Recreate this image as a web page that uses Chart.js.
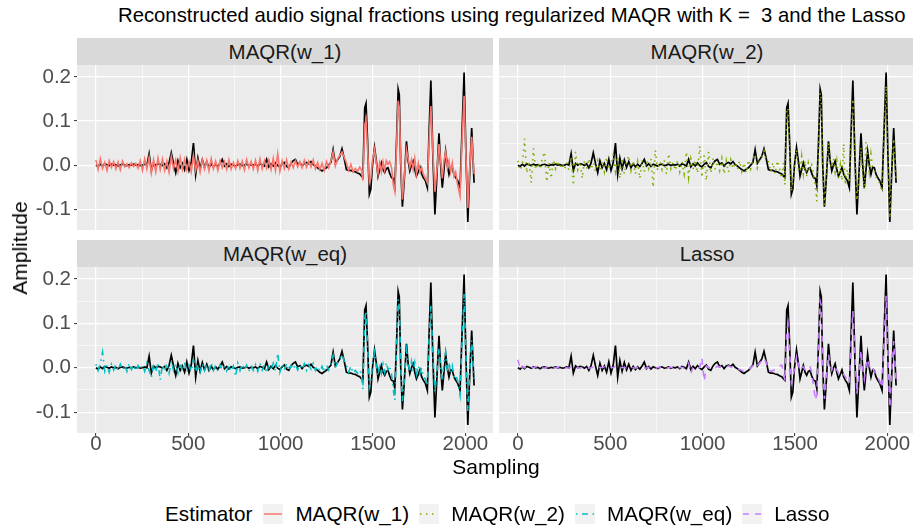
<!DOCTYPE html>
<html lang="en">
<head>
<meta charset="UTF-8">
<title>Reconstructed audio signal fractions</title>
<script src="https://cdn.jsdelivr.net/npm/chart.js"></script>
<style>
  body {
    margin: 0;
    width: 913px;
    height: 527px;
    overflow: hidden;
    background: #fff;
    position: relative;
    font-family: "Liberation Sans", Arial, sans-serif;
  }
  .title {
    position: absolute;
    left: 118px;
    top: 4px;
    font-size: 20.3px;
    color: #000;
    white-space: nowrap;
  }
  .strip {
    position: absolute;
    height: 27px;
    line-height: 27px;
    background: #D9D9D9;
    color: #1A1A1A;
    font-size: 20.5px;
    text-align: center;
  }
  canvas { position: absolute; }
  .ytitle {
    position: absolute;
    left: 20px;
    top: 248px;
    font-size: 21px;
    transform: translate(-50%, -50%) rotate(-90deg);
    white-space: nowrap;
  }
  .xtitle {
    position: absolute;
    left: 496px;
    top: 467px;
    font-size: 21px;
    transform: translate(-50%, -50%);
  }
  .legend {
    position: absolute;
    left: 165px;
    top: 502px;
    height: 24px;
    display: flex;
    align-items: center;
    font-size: 20.7px;
    color: #000;
    white-space: nowrap;
  }
  .legend .key { width: 20px; height: 20px; background: #F2F2F2; margin: 0 12px 0 0; }
  .legend .lab { margin-right: 10px; }
</style>
</head>
<body>
<div class="title">Reconstructed audio signal fractions using regularized MAQR with K =&nbsp; 3 and the Lasso</div>

<div class="strip" style="left:77px;top:38px;width:416px;">MAQR(w_1)</div>
<div class="strip" style="left:499px;top:38px;width:416px;">MAQR(w_2)</div>
<div class="strip" style="left:77px;top:240px;width:416px;">MAQR(w_eq)</div>
<div class="strip" style="left:499px;top:240px;width:416px;">Lasso</div>

<canvas id="p1" width="493" height="165" style="left:0;top:65px;"></canvas>
<canvas id="p2" width="416" height="165" style="left:499px;top:65px;"></canvas>
<canvas id="p3" width="493" height="194" style="left:0;top:267px;"></canvas>
<canvas id="p4" width="416" height="194" style="left:499px;top:267px;"></canvas>

<div class="ytitle">Amplitude</div>
<div class="xtitle">Sampling</div>

<div class="legend" id="legend"></div>

<script>
// sample positions shared by every series
const sampleIdx = [
  0,12,24,36,48,60,72,84,96,108,
  120,132,144,156,168,180,192,204,216,228,
  240,252,264,276,288,300,312,324,336,348,
  360,372,384,396,408,420,432,444,456,468,
  480,492,504,516,528,540,552,564,576,588,
  600,612,624,636,648,660,672,684,696,708,
  720,732,744,756,768,780,792,804,816,828,
  840,852,864,876,888,900,912,924,936,948,
  960,972,984,996,1008,1020,1032,1044,1056,1068,
  1080,1092,1104,1116,1128,1140,1152,1164,1176,1188,
  1200,1212,1224,1236,1248,1260,1272,1284,1296,1308,
  1320,1332,1344,
  1356,1368,1380,1392,1404,1416,1428,1438,
  1445,1455,1462,1470,1480,1488,1497,1508,
  1518,1527,1536,1545,1554,1563,1572,1581,
  1590,1600,1610,1618,1627,1636,1642,1650,
  1659,1668,1681,1690,1699,1708,1717,1726,
  1735,1745,1754,1763,1772,1783,1794,1803,
  1813,1824,1835,1846,1857,1866,1875,1884,
  1893,1902,1911,1920,1929,1938,1947,1958,
  1971,1982,1993,2003,2013,2023,2034,2047
];

// original audio signal (black line)
const signal = [
  .000,-.003,.002,-.002,.003,.001,-.001,.002,.000,.001,
  -.002,.001,.002,.000,-.001,.001,.000,.002,.000,.001,
  -.001,.000,.002,.000,.026,-.012,.004,.000,.003,.002,
  -.001,.003,-.006,.005,.028,.004,-.017,.010,-.006,.004,
  -.010,.013,-.012,.006,.050,-.021,.016,-.008,.012,-.005,
  .008,-.006,.003,-.004,.002,-.003,.004,.013,-.002,.003,
  -.003,.002,.000,-.002,.001,.002,-.001,.000,.002,-.001,
  .001,.000,.002,-.002,.003,.001,-.002,.013,-.004,.003,
  -.002,.005,-.001,-.004,.002,.006,-.003,-.006,.004,.010,
  .013,.002,.005,-.002,.004,.006,.003,.008,.001,-.002,
  -.006,-.010,-.013,-.009,-.006,.000,.006,.035,.004,.012,
  .020,.037,.015,
  -.010,-.012,-.012,-.014,-.015,-.018,-.020,-.025,
  -.028,.130,.140,.060,-.066,-.055,.000,.040,
  .010,-.025,-.010,.005,-.010,-.017,-.008,-.006,
  -.018,-.028,-.030,-.047,.050,.172,.160,.000,
  -.094,-.040,.054,.010,-.013,.000,.009,-.010,
  -.025,-.015,-.005,-.020,-.028,-.035,-.051,.070,
  .192,.020,-.112,-.020,.072,.000,-.051,-.010,
  .031,.000,-.021,-.005,-.006,-.020,-.028,-.035,
  -.051,.080,.210,.020,-.129,-.020,.084,-.040
];

// reconstructions
const estW1 = [
  .012,-.010,.015,-.008,.006,-.012,.010,-.005,.008,-.009,
  .007,-.011,.009,-.004,.003,-.006,.005,-.003,.004,-.007,
  .010,-.012,.014,-.009,.018,-.018,.012,-.015,.016,-.010,
  .014,-.012,.009,-.016,.020,-.008,.012,-.014,.017,-.010,
  .013,-.011,.008,-.015,.022,-.012,.010,-.016,.012,-.009,
  .011,-.013,.015,-.008,.009,-.012,.010,-.006,.008,-.010,
  .012,-.009,.006,-.008,.010,-.007,.009,-.011,.013,-.006,
  .008,-.009,.011,-.012,.014,-.008,.010,-.007,.012,-.010,
  .016,-.012,.026,-.014,.010,-.008,.012,-.009,.007,-.006,
  .010,-.004,.008,-.006,.011,-.005,.009,-.004,.012,-.008,
  .006,-.010,.004,-.012,.008,-.006,.010,.030,-.002,.014,
  .022,.030,.018,
  .005,-.012,.002,-.015,-.008,-.014,-.004,-.012,
  -.035,.090,.104,.040,-.040,-.030,.010,.036,
  .005,-.020,.005,-.015,.008,-.012,.010,.002,
  .008,-.005,-.045,-.060,.040,.146,.130,.010,
  -.078,-.030,.035,.015,-.005,.012,-.010,.015,
  -.020,.005,-.015,-.005,-.020,-.030,-.040,.050,
  .134,.030,-.060,-.010,.048,.010,-.030,.010,
  .030,-.005,.010,-.015,.005,-.025,-.015,-.045,
  -.070,.060,.157,.020,-.097,-.010,.064,-.020
];

const estW2 = [
  .010,-.012,.000,.060,-.018,.008,-.040,.038,-.010,.005,
  -.008,.015,.030,-.038,.006,-.030,.012,-.008,.010,-.006,
  .004,-.010,.006,-.012,.020,-.046,.030,-.010,.008,-.030,
  .012,-.008,.015,-.010,.006,-.014,.010,-.012,.008,-.015,
  .018,-.010,.006,.025,-.014,.020,-.030,.015,-.020,.008,
  .022,-.012,.010,-.020,.008,-.030,.012,-.015,.010,-.008,
  .015,-.050,.034,-.012,.008,-.010,.012,-.020,.026,-.008,
  .006,-.012,.010,-.015,.008,-.020,.030,-.028,.014,-.010,
  .012,-.018,.043,-.028,.022,-.035,.030,-.018,.016,-.010,
  .008,-.012,.015,-.020,.010,-.016,.012,-.008,.006,-.010,
  .010,-.014,.005,-.018,.012,-.008,.015,.025,-.006,.012,
  .018,.032,.010,
  .008,-.015,.006,-.020,.010,-.008,-.030,.005,
  -.045,.120,.130,.050,-.060,-.040,.005,.035,
  -.010,-.015,.020,-.020,.010,-.025,.005,-.010,
  .000,-.020,-.050,-.082,.040,.164,.150,.005,
  -.090,-.035,.050,.005,-.005,.015,-.015,.010,
  -.030,.000,-.035,.048,-.045,-.010,-.040,.060,
  .150,.030,-.080,-.030,.040,-.020,-.055,.052,
  .020,-.015,.025,-.005,-.010,-.025,-.035,-.040,
  -.060,.060,.180,.030,-.120,-.015,.060,-.030
];

const estWeq = [
  .008,-.006,.010,.035,-.008,.006,-.010,.008,-.005,.007,
  -.006,.008,-.005,.006,-.008,.010,-.004,.006,-.007,.005,
  -.004,.006,-.008,.010,-.006,-.022,.008,-.010,.012,-.028,
  .006,-.008,.010,-.012,.015,-.006,.008,-.012,.010,-.008,
  .012,-.010,.006,-.008,.018,-.010,.008,-.012,.010,-.006,
  .008,-.010,.012,-.006,.005,-.008,.006,-.005,.004,-.007,
  .006,-.008,.004,-.020,.010,-.006,.008,-.005,.006,-.008,
  .005,-.006,.007,-.008,.010,-.005,.006,-.012,.008,-.006,
  .010,-.008,.033,-.010,.008,-.006,.010,-.007,.005,-.004,
  .008,-.005,.006,-.004,.009,-.006,.007,-.003,.010,-.006,
  .004,-.008,.003,-.010,.006,-.005,.008,.028,.000,.012,
  .020,.030,.015,
  .005,-.010,.004,-.012,-.006,-.012,-.005,-.015,
  -.049,.110,.128,.050,-.045,-.030,.008,.035,
  .000,-.018,.010,-.012,.008,-.010,.012,-.004,
  .005,-.015,-.050,-.073,.040,.154,.140,.010,
  -.077,-.030,.040,.010,-.010,.014,-.008,.012,
  -.015,.005,-.012,.000,-.020,-.025,-.040,.060,
  .143,.030,-.054,-.010,.045,.000,-.030,.012,
  .035,-.008,.012,-.012,.004,-.020,-.015,-.030,
  -.062,.060,.166,.030,-.099,-.010,.062,-.025
];

const estLasso = [
  .018,-.004,.003,.000,.002,-.002,.001,.000,.002,-.001,
  .001,.000,-.001,.002,.000,.001,-.001,.000,.001,.000,
  .000,.001,.000,-.001,.002,.000,.001,.000,-.001,.001,
  .000,.002,-.001,.000,.001,.000,-.002,.001,.000,.002,
  .000,-.001,.001,.000,.003,-.002,.001,.000,.001,-.001,
  .000,.001,.000,-.001,.001,.000,.001,.000,-.001,.001,
  .000,.001,-.001,.000,.002,.000,.001,-.001,.000,.001,
  .000,-.001,.001,.000,.001,-.001,.000,.010,-.013,.002,
  .000,-.001,.001,.022,-.030,.004,.000,.002,-.001,.000,
  .003,.002,.001,.003,.002,.004,.002,.001,.000,-.002,
  -.004,-.006,-.008,-.006,-.003,.000,.004,.012,.006,.010,
  .016,.022,.012,
  -.005,-.008,-.006,-.004,.000,.004,.006,-.010,
  -.030,.080,.098,.040,-.035,-.025,.000,.025,
  .010,-.008,.000,.002,-.004,-.005,.000,.002,
  -.010,-.040,-.073,-.060,.040,.150,.140,.010,
  -.070,-.030,.030,.010,-.005,.005,.000,-.005,
  -.012,-.008,-.010,-.015,-.020,-.030,-.035,.050,
  .128,.030,-.060,-.015,.040,.000,-.025,.005,
  .020,.005,-.005,.000,-.008,-.015,-.020,-.030,
  -.045,.060,.162,.020,-.090,-.015,.060,-.030
];

const estimators = ['MAQR(w_1)', 'MAQR(w_2)', 'MAQR(w_eq)', 'Lasso'];
const estColors = ['#F8766D', '#7CAE00', '#00BFC4', '#C77CFF'];
const estDash = [[], [1.5, 4.5], [1.5, 4.5, 6, 4.5], [6, 6]];

// grid lines (major ones carry a label)
const xGrid = [0, 250, 500, 750, 1000, 1250, 1500, 1750, 2000];
const xTickLabels = [0, 500, 1000, 1500, 2000];
const yGrid = [-0.1, -0.05, 0, 0.05, 0.1, 0.15, 0.2];
const yTickLabels = [-0.1, 0.0, 0.1, 0.2];

// grey panel background like ggplot
const panelBg = {
  id: 'panelBg',
  beforeDraw(chart) {
    const a = chart.chartArea;
    const ctx = chart.ctx;
    ctx.save();
    ctx.fillStyle = '#EBEBEB';
    ctx.fillRect(a.left, a.top, a.width, a.height);
    ctx.restore();
  }
};

function near(v, list) {
  return list.some(t => Math.abs(t - v) < 1e-6);
}

function toPoints(vals) {
  return sampleIdx.map((x, i) => ({ x: x, y: vals[i] }));
}

function makePanel(id, vals, k, showX, showY) {
  new Chart(document.getElementById(id), {
    type: 'line',
    data: {
      datasets: [
        {
          label: estimators[k],
          data: toPoints(vals),
          borderColor: estColors[k],
          borderDash: estDash[k],
          borderWidth: 1.6,
          pointRadius: 0,
          fill: false
        },
        {
          label: 'signal',
          data: toPoints(signal),
          borderColor: '#000',
          borderWidth: 1.7,
          pointRadius: 0,
          fill: false
        }
      ]
    },
    options: {
      responsive: false,
      animation: false,
      layout: { padding: 0 },
      plugins: { legend: { display: false }, tooltip: { enabled: false } },
      scales: {
        x: {
          type: 'linear',
          min: -102.35,
          max: 2149.35,
          afterBuildTicks: s => { s.ticks = xGrid.map(v => ({ value: v })); },
          afterFit: s => {
            s.height = showX ? 28 : 0;
            s.paddingLeft = 0;
            s.paddingRight = 0;
          },
          border: { display: false },
          grid: {
            color: '#fff',
            lineWidth: c => near(c.tick.value, xTickLabels) ? 1.2 : 0.6,
            drawTicks: showX,
            tickLength: 3,
            tickWidth: 1,
            tickColor: c => near(c.tick.value, xTickLabels) ? '#333' : 'rgba(0,0,0,0)'
          },
          ticks: {
            display: showX,
            autoSkip: false,
            maxRotation: 0,
            padding: -4,
            color: '#4D4D4D',
            font: { family: 'Liberation Sans', size: 20.5 },
            callback: v => near(v, xTickLabels) ? String(v) : ''
          }
        },
        y: {
          min: -0.147,
          max: 0.227,
          afterBuildTicks: s => { s.ticks = yGrid.map(v => ({ value: v })); },
          afterFit: s => {
            s.width = showY ? 77 : 0;
            s.paddingTop = 0;
            s.paddingBottom = 0;
          },
          border: { display: false },
          grid: {
            color: '#fff',
            lineWidth: c => near(c.tick.value, yTickLabels) ? 1.2 : 0.6,
            drawTicks: showY,
            tickLength: 3,
            tickWidth: 1,
            tickColor: c => near(c.tick.value, yTickLabels) ? '#333' : 'rgba(0,0,0,0)'
          },
          ticks: {
            display: showY,
            padding: 3,
            color: '#4D4D4D',
            font: { family: 'Liberation Sans', size: 20.5 },
            callback: v => near(v, yTickLabels) ? v.toFixed(1) : ''
          }
        }
      }
    },
    plugins: [panelBg]
  });
}

makePanel('p1', estW1, 0, false, true);
makePanel('p2', estW2, 1, false, false);
makePanel('p3', estWeq, 2, true, true);
makePanel('p4', estLasso, 3, true, false);

// legend built as html with small svg keys
const legend = document.getElementById('legend');
let html = '<span style="margin-right:11px">Estimator</span>';
estimators.forEach((name, k) => {
  const dash = estDash[k].length ? estDash[k].join(',') : 'none';
  html += '<span class="key"><svg width="20" height="20"><line x1="1" y1="10" x2="19" y2="10" stroke="' +
    estColors[k] + '" stroke-width="1.5" stroke-dasharray="' + dash + '"/></svg></span>' +
    '<span class="lab">' + name + '</span>';
});
legend.innerHTML = html;
</script>
</body>
</html>
